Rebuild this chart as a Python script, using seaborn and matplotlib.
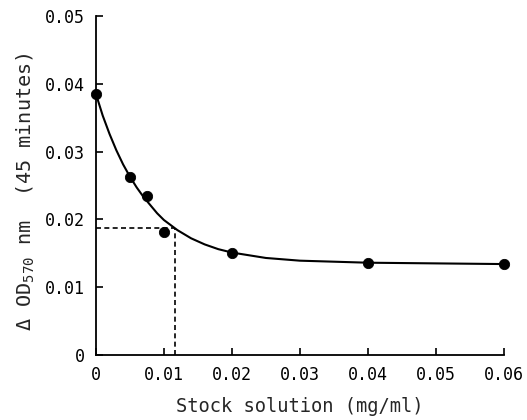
import numpy as np
import pandas as pd
import matplotlib
matplotlib.use("Agg")
import matplotlib.pyplot as plt
import seaborn as sns

# measured points
conc = [0.0, 0.005, 0.0075, 0.010, 0.020, 0.040, 0.060]
delta_od = [0.0385, 0.0263, 0.0235, 0.0181, 0.0151, 0.0136, 0.0134]

# fitted curve
curve_x = [0.0, 0.001, 0.002, 0.003, 0.004, 0.005, 0.006, 0.007, 0.008, 0.009,
           0.010, 0.012, 0.014, 0.016, 0.018, 0.020, 0.025, 0.030, 0.040,
           0.050, 0.060]
curve_y = [0.0385, 0.0353, 0.0326, 0.0302, 0.0281, 0.0263, 0.0247, 0.0233,
           0.0221, 0.0209, 0.0199, 0.0184, 0.0172, 0.0163, 0.0156, 0.0151,
           0.0143, 0.0139, 0.0136, 0.0135, 0.0134]

# half-value read-off (dashed guide)
half_x = 0.0117
half_y = 0.0187

x_ticks = [0, 0.01, 0.02, 0.03, 0.04, 0.05, 0.06]
x_labels = ["0", "0.01", "0.02", "0.03", "0.04", "0.05", "0.06"]
y_ticks = [0, 0.01, 0.02, 0.03, 0.04, 0.05]
y_labels = ["0", "0.01", "0.02", "0.03", "0.04", "0.05"]

pts = pd.DataFrame({"conc": conc, "od": delta_od})
fit = pd.DataFrame({"conc": curve_x, "od": curve_y})

sns.set_style("ticks")
plt.rcParams["font.family"] = ["DejaVu Sans Mono", "DejaVu Sans"]
plt.rcParams["mathtext.default"] = "regular"

fig = plt.figure(figsize=(5.27, 4.2), dpi=100)
ax = fig.add_axes([0.182, 0.155, 0.774, 0.807])

sns.lineplot(data=fit, x="conc", y="od", color="black", linewidth=1.5,
             ax=ax, clip_on=False)
sns.scatterplot(data=pts, x="conc", y="od", color="black", s=55,
                edgecolor="black", ax=ax, clip_on=False, zorder=5)

ax.plot([0, half_x], [half_y, half_y], color="black", linestyle=(0, (3, 2)), linewidth=1.2)
ax.plot([half_x, half_x], [0, half_y], color="black", linestyle=(0, (3, 2)), linewidth=1.2)

ax.set_xlim(0, 0.06)
ax.set_ylim(0, 0.05)
ax.set_xticks(x_ticks)
ax.set_xticklabels(x_labels)
ax.set_yticks(y_ticks)
ax.set_yticklabels(y_labels)
ax.tick_params(direction="in", length=5, width=1.2, labelsize=12, pad=8, colors="black")

sns.despine(ax=ax)
for side in ["left", "bottom"]:
    ax.spines[side].set_linewidth(1.3)
    ax.spines[side].set_color("black")

ax.set_xlabel("Stock solution (mg/ml)", fontsize=13.5, labelpad=9)
ax.set_ylabel(r"$\Delta$ OD$_{570}$ nm  (45 minutes)", fontsize=14.5, labelpad=6)
ax.yaxis.set_label_coords(-0.145, 0.48)

fig.savefig("out.png", dpi=100)
